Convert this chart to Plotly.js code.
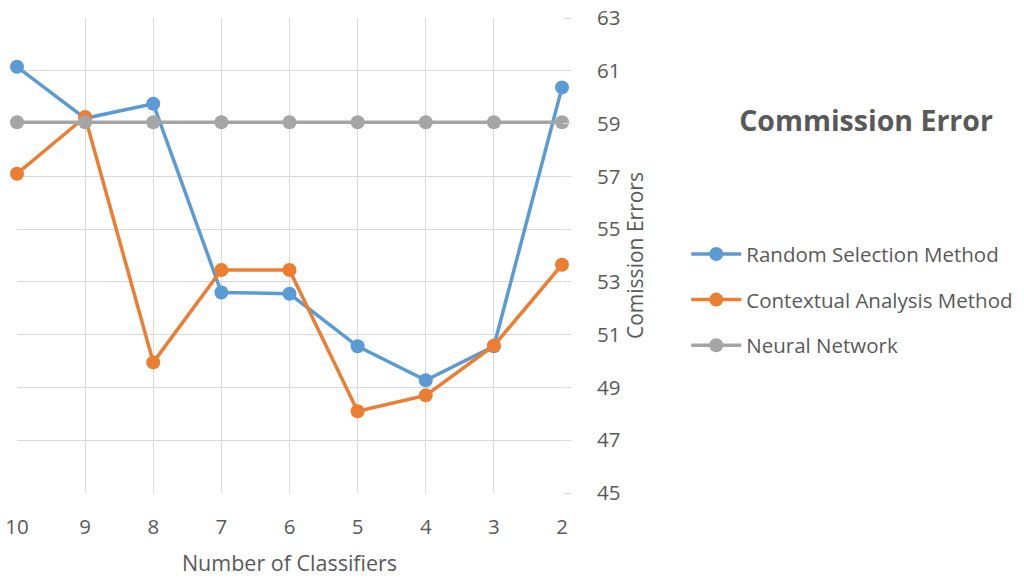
<!DOCTYPE html>
<html>
<head>
<meta charset="utf-8">
<script src="https://cdn.plot.ly/plotly-3.0.1.min.js"></script>
<style>html,body{margin:0;padding:0;background:#fff;}#chart{width:1024px;height:582px;}</style>
</head>
<body>
<div id="chart"></div>
<script>
const classifiers = ["10", "9", "8", "7", "6", "5", "4", "3", "2"];
const randomSelection = [61.15, 59.2, 59.75, 52.6, 52.55, 50.56, 49.27, 50.56, 60.37];
const contextualAnalysis = [57.1, 59.25, 49.95, 53.45, 53.45, 48.1, 48.7, 50.58, 53.65];
const neuralNetwork = [59.05, 59.05, 59.05, 59.05, 59.05, 59.05, 59.05, 59.05, 59.05];

const font = "'Open Sans', Lato, sans-serif";
const mk = (name, y, color, group) => ({
  type: "scatter", mode: "lines+markers", name: name, x: classifiers, y: y,
  line: {color: color, width: 3.5}, marker: {color: color, size: 14},
  legendgroup: group, cliponaxis: false
});

const data = [
  mk("Random Selection Method", randomSelection, "#5b9bd5", "a"),
  mk("Contextual Analysis Method", contextualAnalysis, "#ed7d31", "b"),
  mk("Neural Network", neuralNetwork, "#a5a5a5", "c")
];

const layout = {
  width: 1024, height: 582,
  margin: {l: 17, r: 462, t: 18, b: 89, autoexpand: false},
  paper_bgcolor: "#fff", plot_bgcolor: "#fff",
  font: {family: font, color: "#595959", size: 18},
  title: {text: "<b>Commission Error</b>", x: 866/1024, xanchor: "center", y: 1 - 121/582, yanchor: "middle",
          xref: "container", yref: "container", font: {size: 28.5, color: "#595959", family: font}},
  xaxis: {
    type: "category", range: [0, 8], showgrid: true, gridcolor: "#d9d9d9", gridwidth: 1,
    showline: false, zeroline: false, ticks: "outside", ticklen: 15, tickcolor: "rgba(0,0,0,0)",
    tickfont: {size: 20.5, color: "#595959"},
    title: {text: "Number of Classifiers", font: {size: 21.5, color: "#595959"}, standoff: 17}
  },
  yaxis: {
    side: "right", range: [45, 63], dtick: 2, tick0: 45, showgrid: true, gridcolor: "#d9d9d9", gridwidth: 1,
    zeroline: false, showline: false, ticks: "outside", ticklen: 8, tickcolor: "#d9d9d9",
    ticklabelstandoff: 22,
    tickfont: {size: 20.5, color: "#595959"},
    title: {text: "Comission Errors", font: {size: 21, color: "#595959"}, standoff: 7}
  },
  showlegend: true,
  legend: {x: 1.228, xanchor: "left", y: 0.545, yanchor: "top", traceorder: "grouped", tracegroupgap: 16,
           font: {size: 20.5, color: "#595959"}, bgcolor: "rgba(0,0,0,0)", itemwidth: 50},
};

Plotly.newPlot("chart", data, layout, {displayModeBar: false, staticPlot: true});
</script>
</body>
</html>
